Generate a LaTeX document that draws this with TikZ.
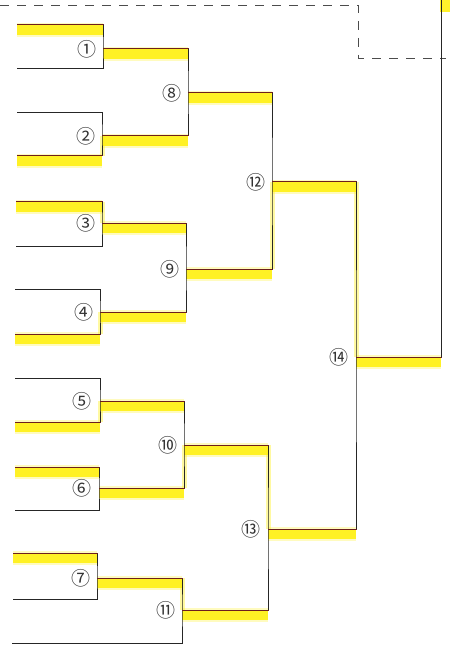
\documentclass[tikz,border=0pt]{standalone}
\usepackage{fontspec}
\newfontfamily\cjk{Noto Sans CJK JP}
\definecolor{hly}{RGB}{255,240,20}
\definecolor{wred}{RGB}{110,30,30}
\begin{document}
\begin{tikzpicture}[x=1pt,y=-1pt,
  ln/.style={line width=1pt, black!85, line cap=rect},
  wl/.style={line width=1pt, wred, line cap=rect},
  hl/.style={line width=10pt, hly, opacity=0.9, transform canvas={yshift=-5pt},
    preaction={draw, line width=14pt, hly!45, opacity=0.6, transform canvas={yshift=-5pt}}},
  hv/.style={line width=5pt, hly, opacity=0.4},
  num/.style={font=\cjk\fontsize{19}{19}\selectfont, inner sep=0pt, text=black!80},
  dsh/.style={line width=0.8pt, black!70, dash pattern=on 9pt off 8pt}]
\useasboundingbox (0,0) rectangle (450,660);
% entrants
\coordinate (e1a) at (17,25);  \coordinate (e1b) at (17,69);
\coordinate (e2a) at (17,113); \coordinate (e2b) at (17,156);
\coordinate (e3a) at (16,202); \coordinate (e3b) at (16,246);
\coordinate (e4a) at (15,289); \coordinate (e4b) at (15,334);
\coordinate (e5a) at (15,378); \coordinate (e5b) at (15,422);
\coordinate (e6a) at (15,467); \coordinate (e6b) at (15,510);
\coordinate (e7a) at (13,553); \coordinate (e7b) at (13,599);
\coordinate (e8)  at (12,643);
% matches (vertical x, output y)
\coordinate (M1) at (103,49);  \coordinate (M2) at (102,136);
\coordinate (M3) at (102,223); \coordinate (M4) at (100,312);
\coordinate (M5) at (100,401); \coordinate (M6) at (99,488);
\coordinate (M7) at (97,578);
\coordinate (M8) at (188,93);  \coordinate (M9) at (186,269);
\coordinate (M10) at (184,445); \coordinate (M11) at (182,610);
\coordinate (M12) at (272,182); \coordinate (M13) at (268,529);
\coordinate (M14) at (356,357);
\coordinate (F) at (441,357); \coordinate (Ftop) at (441,-1);
% highlighter
\draw[hl] (e1a) -- (e1a -| M1);
\draw[hl] (e2b) -- (e2b -| M2);
\draw[hl] (e3a) -- (e3a -| M3);
\draw[hl] (e4b) -- (e4b -| M4);
\draw[hl] (e5b) -- (e5b -| M5);
\draw[hl] (e6a) -- (e6a -| M6);
\draw[hl] (e7a) -- (e7a -| M7);
\draw[hl] (M1) -- (M1 -| M8);
\draw[hl] (M2) -- (M2 -| M8);
\draw[hl] (M3) -- (M3 -| M9);
\draw[hl] (M4) -- (M4 -| M9);
\draw[hl] (M5) -- (M5 -| M10);
\draw[hl] (M6) -- (M6 -| M10);
\draw[hl] (M7) -- (M7 -| M11);
\draw[hl] (M8) -- (M8 -| M12);
\draw[hl] (M9) -- (M9 -| M12);
\draw[hl] (M10) -- (M10 -| M13);
\draw[hl] (M11) -- (M11 -| M13);
\draw[hl] (M12) -- (M12 -| M14);
\draw[hl] (M13) -- (M13 -| M14);
\draw[hl] (M14) -- (F);
\fill[hly, opacity=0.9] (440,0) rectangle (450,12);
\draw[hv] (M2) -- (e2b -| M2);
\draw[hv] (e3a -| M3) -- (M3);
\draw[hv] (M4) -- (e4b -| M4);
\draw[hv] (M5) -- (e5b -| M5);
\draw[hv] (M10) -- (M6 -| M10);
\draw[hv] (M7 -| M11) -- (M11);
\draw[hv] (M12) -- (M9 -| M12);
\draw[hv] (M10 -| M13) -- (M13);
\draw[hv] (M12 -| M14) -- (M14);
% dashed frame
\draw[dsh] (0,5) -- (358,5) -- (358,58) -- (446,58);
% bracket lines
\draw[ln] (e1a) -| (M1) |- (e1b);
\draw[ln] (e2a) -| (M2) |- (e2b);
\draw[ln] (e3a) -| (M3) |- (e3b);
\draw[ln] (e4a) -| (M4) |- (e4b);
\draw[ln] (e5a) -| (M5) |- (e5b);
\draw[ln] (e6a) -| (M6) |- (e6b);
\draw[ln] (e7a) -| (M7) |- (e7b);
\draw[ln] (M1) -| (M8) |- (M2);
\draw[ln] (M3) -| (M9) |- (M4);
\draw[ln] (M5) -| (M10) |- (M6);
\draw[ln] (M7) -| (M11) |- (e8);
\draw[ln] (M8) -| (M12) |- (M9);
\draw[ln] (M10) -| (M13) |- (M11);
\draw[ln] (M12) -| (M14) |- (M13);
\draw[ln] (M14) -- (F) -- (Ftop);
% winner strokes
\draw[wl] (e1a) -- (e1a -| M1);
\draw[wl] (e2b) -- (e2b -| M2);
\draw[wl] (e3a) -- (e3a -| M3);
\draw[wl] (e4b) -- (e4b -| M4);
\draw[wl] (e5b) -- (e5b -| M5);
\draw[wl] (e6a) -- (e6a -| M6);
\draw[wl] (e7a) -- (e7a -| M7);
\draw[wl] (M1) -- (M1 -| M8);
\draw[wl] (M2) -- (M2 -| M8);
\draw[wl] (M3) -- (M3 -| M9);
\draw[wl] (M4) -- (M4 -| M9);
\draw[wl] (M5) -- (M5 -| M10);
\draw[wl] (M6) -- (M6 -| M10);
\draw[wl] (M7) -- (M7 -| M11);
\draw[wl] (M8) -- (M8 -| M12);
\draw[wl] (M9) -- (M9 -| M12);
\draw[wl] (M10) -- (M10 -| M13);
\draw[wl] (M11) -- (M11 -| M13);
\draw[wl] (M12) -- (M12 -| M14);
\draw[wl] (M13) -- (M13 -| M14);
\draw[wl] (M14) -- (F);
% labels
\node[num] (n1) at ([xshift=-16pt]M1) {①};
\node[num] (n2) at ([xshift=-16pt]M2) {②};
\node[num] (n3) at ([xshift=-16pt]M3) {③};
\node[num] (n4) at ([xshift=-16pt]M4) {④};
\node[num] (n5) at ([xshift=-18pt]M5) {⑤};
\node[num] (n6) at ([xshift=-17pt]M6) {⑥};
\node[num] (n7) at ([xshift=-16pt]M7) {⑦};
\node[num] (n8) at ([xshift=-16pt]M8) {⑧};
\node[num] (n9) at ([xshift=-16pt]M9) {⑨};
\node[num] (n10) at ([xshift=-16pt]M10) {⑩};
\node[num] (n11) at ([xshift=-16pt]M11) {⑪};
\node[num] (n12) at ([xshift=-16pt]M12) {⑫};
\node[num] (n13) at ([xshift=-17pt]M13) {⑬};
\node[num] (n14) at ([xshift=-17pt]M14) {⑭};
\end{tikzpicture}
\end{document}
